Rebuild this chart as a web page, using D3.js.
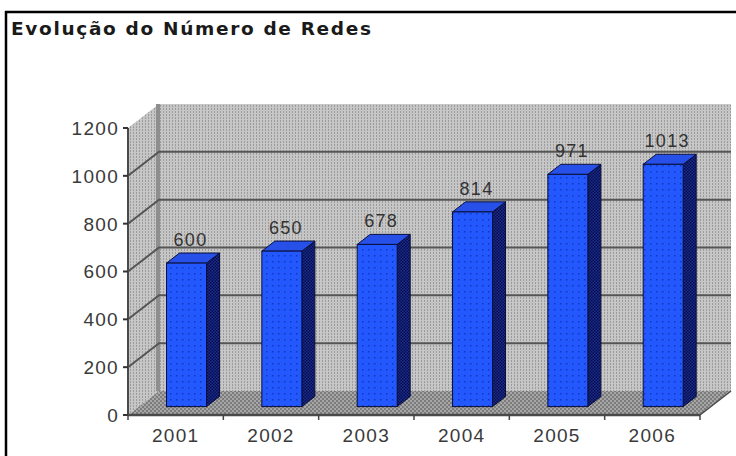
<!DOCTYPE html>
<html>
<head>
<meta charset="utf-8">
<script src="https://cdn.jsdelivr.net/npm/d3@7"></script>
<style>
  body { margin: 0; background: #fff; }
  text { font-family: "Liberation Sans", Arial, sans-serif; }
</style>
</head>
<body>
<div id="chart"></div>
<script>
// data
var years = ["2001", "2002", "2003", "2004", "2005", "2006"];
var redes = [600, 650, 678, 814, 971, 1013];
var yTicks = [0, 200, 400, 600, 800, 1000, 1200];

var svgWidth = 736;
var svgHeight = 456;

// depth of the 3d box
var depthX = 31;
var depthY = -24;
var f0 = 0.35, f1 = 0.77; // bar depth, front / back

var svg = d3.select("#chart")
  .append("svg")
  .attr("width", svgWidth)
  .attr("height", svgHeight);

var x = d3.scaleBand()
  .domain(years)
  .range([128, 700]);

var y = d3.scaleLinear()
  .domain([0, 1200])
  .range([415, 128]);

// dithered fills
var defs = svg.append("defs");

var wall = defs.append("pattern").attr("id", "wall")
  .attr("width", 3).attr("height", 3).attr("patternUnits", "userSpaceOnUse");
wall.append("rect").attr("width", 3).attr("height", 3).attr("fill", "#c6c6c6");
wall.append("rect").attr("x", 1).attr("y", 0).attr("width", 1).attr("height", 2).attr("fill", "#9c9c9c");

var floor = defs.append("pattern").attr("id", "floor")
  .attr("width", 4).attr("height", 4).attr("patternUnits", "userSpaceOnUse");
floor.append("rect").attr("width", 4).attr("height", 4).attr("fill", "#a6a6a6");
floor.append("rect").attr("width", 2).attr("height", 2).attr("fill", "#7c7c7c");
floor.append("rect").attr("x", 2).attr("y", 2).attr("width", 2).attr("height", 2).attr("fill", "#7c7c7c");

var front = defs.append("pattern").attr("id", "front")
  .attr("width", 6).attr("height", 6).attr("patternUnits", "userSpaceOnUse");
front.append("rect").attr("width", 6).attr("height", 6).attr("fill", "#2458ff");
front.append("rect").attr("x", 2).attr("y", 3).attr("width", 1.5).attr("height", 1.5).attr("fill", "#1038c0");

var side = defs.append("pattern").attr("id", "side")
  .attr("width", 3).attr("height", 3).attr("patternUnits", "userSpaceOnUse");
side.append("rect").attr("width", 3).attr("height", 3).attr("fill", "#1a2c88");
side.append("rect").attr("width", 1.5).attr("height", 1.5).attr("fill", "#060c50");
side.append("rect").attr("x", 1.5).attr("y", 1.5).attr("width", 1.5).attr("height", 1.5).attr("fill", "#060c50");

// frame
svg.append("line")
  .attr("x1", 5).attr("x2", 736).attr("y1", 12).attr("y2", 12)
  .attr("stroke", "#000").attr("stroke-width", 2.5);
svg.append("line")
  .attr("x1", 6).attr("x2", 6).attr("y1", 11).attr("y2", 456)
  .attr("stroke", "#000").attr("stroke-width", 2.5);

// title
svg.append("text")
  .attr("x", 11)
  .attr("y", 35)
  .style("font-family", "'DejaVu Sans', sans-serif")
  .style("font-size", "18.5px")
  .style("font-weight", "bold")
  .attr("textLength", 360)
  .attr("lengthAdjust", "spacing")
  .attr("fill", "#1a1a1a")
  .text("Evolução do Número de Redes");

var x0 = x.range()[0], x1 = x.range()[1];
var yTop = y(1200), yBot = y(0);

function pts(arr) { return arr.map(p => p.join(",")).join(" "); }

// back wall
svg.append("polygon")
  .attr("points", pts([[x0 + depthX, yTop + depthY], [x1 + depthX, yTop + depthY],
    [x1 + depthX, yBot + depthY], [x0 + depthX, yBot + depthY]]))
  .attr("fill", "url(#wall)");

// left wall
svg.append("polygon")
  .attr("points", pts([[x0, yTop], [x0 + depthX, yTop + depthY],
    [x0 + depthX, yBot + depthY], [x0, yBot]]))
  .attr("fill", "url(#wall)");

// corner strip
svg.append("rect")
  .attr("x", x0 + depthX - 3).attr("y", yTop + depthY)
  .attr("width", 4).attr("height", yBot - yTop)
  .attr("fill", "#8e8e8e");

// floor
svg.append("polygon")
  .attr("points", pts([[x0, yBot], [x0 + depthX, yBot + depthY],
    [x1 + depthX, yBot + depthY], [x1, yBot]]))
  .attr("fill", "url(#floor)");

// gridlines
var grid = svg.append("g");
yTicks.filter(v => v > 0 && v < 1200).forEach(function(v) {
  grid.append("polyline")
    .attr("points", pts([[x0, y(v)], [x0 + depthX, y(v) + depthY], [x1 + depthX, y(v) + depthY]]))
    .attr("fill", "none")
    .attr("stroke", "#555")
    .attr("stroke-width", 2);
});

// y axis
svg.append("line")
  .attr("x1", x0).attr("x2", x0).attr("y1", yTop).attr("y2", yBot)
  .attr("stroke", "#4a4a4a").attr("stroke-width", 2);
svg.append("line")
  .attr("x1", x0).attr("x2", x1).attr("y1", yBot).attr("y2", yBot)
  .attr("stroke", "#4a4a4a").attr("stroke-width", 2.5);
svg.append("line")
  .attr("x1", x1).attr("x2", x1 + depthX).attr("y1", yBot).attr("y2", yBot + depthY)
  .attr("stroke", "#4a4a4a").attr("stroke-width", 1.5);

var yAxis = svg.append("g");
yAxis.selectAll("line")
  .data(yTicks)
  .enter()
  .append("line")
  .attr("x1", x0 - 5).attr("x2", x0)
  .attr("y1", d => y(d)).attr("y2", d => y(d))
  .attr("stroke", "#333").attr("stroke-width", 2);
yAxis.selectAll("text")
  .data(yTicks)
  .enter()
  .append("text")
  .attr("x", x0 - 9)
  .attr("y", d => y(d))
  .attr("dy", "0.36em")
  .attr("text-anchor", "end")
  .attr("font-size", "19px")
  .attr("letter-spacing", "1.3px")
  .attr("fill", "#3a3a3a")
  .text(d => d);

// x axis
var bounds = years.map(d => x(d)).concat([x1]);
svg.append("g").selectAll("line")
  .data(bounds)
  .enter()
  .append("line")
  .attr("x1", d => d).attr("x2", d => d)
  .attr("y1", yBot).attr("y2", yBot + 5)
  .attr("stroke", "#444").attr("stroke-width", 1.5);

svg.append("g").selectAll("text")
  .data(years)
  .enter()
  .append("text")
  .attr("x", d => x(d) + x.bandwidth() / 2)
  .attr("y", 442)
  .attr("text-anchor", "middle")
  .attr("font-size", "19px")
  .attr("letter-spacing", "1.3px")
  .attr("fill", "#3a3a3a")
  .text(d => d);

// bars
var bw = 40;
var bars = svg.append("g");
years.forEach(function(d, i) {
  var v = redes[i];
  var bx = x(d) + (x.bandwidth() - bw) / 2 + depthX * f0;
  var by = y(v) + depthY * f0;
  var bb = yBot + depthY * f0;
  var ddx = depthX * (f1 - f0), ddy = depthY * (f1 - f0);

  // side
  bars.append("polygon")
    .attr("points", pts([[bx + bw, by], [bx + bw + ddx, by + ddy], [bx + bw + ddx, bb + ddy], [bx + bw, bb]]))
    .attr("fill", "url(#side)")
    .attr("stroke", "#0a0f3a").attr("stroke-width", 1);
  // top
  bars.append("polygon")
    .attr("points", pts([[bx, by], [bx + ddx, by + ddy], [bx + bw + ddx, by + ddy], [bx + bw, by]]))
    .attr("fill", "#2650e8")
    .attr("stroke", "#0a0f3a").attr("stroke-width", 1);
  // front
  bars.append("rect")
    .attr("x", bx).attr("y", by)
    .attr("width", bw).attr("height", bb - by)
    .attr("fill", "url(#front)")
    .attr("stroke", "#0a0f3a").attr("stroke-width", 1);
});

// value labels
svg.append("g").selectAll("text")
  .data(redes)
  .enter()
  .append("text")
  .attr("x", (d, i) => x(years[i]) + x.bandwidth() / 2 + depthX * f0 + 4)
  .attr("y", d => y(d) - 32)
  .attr("dy", "0.36em")
  .attr("text-anchor", "middle")
  .attr("font-size", "18px")
  .attr("letter-spacing", "1.3px")
  .attr("fill", "#333")
  .text(d => d);
</script>
</body>
</html>
